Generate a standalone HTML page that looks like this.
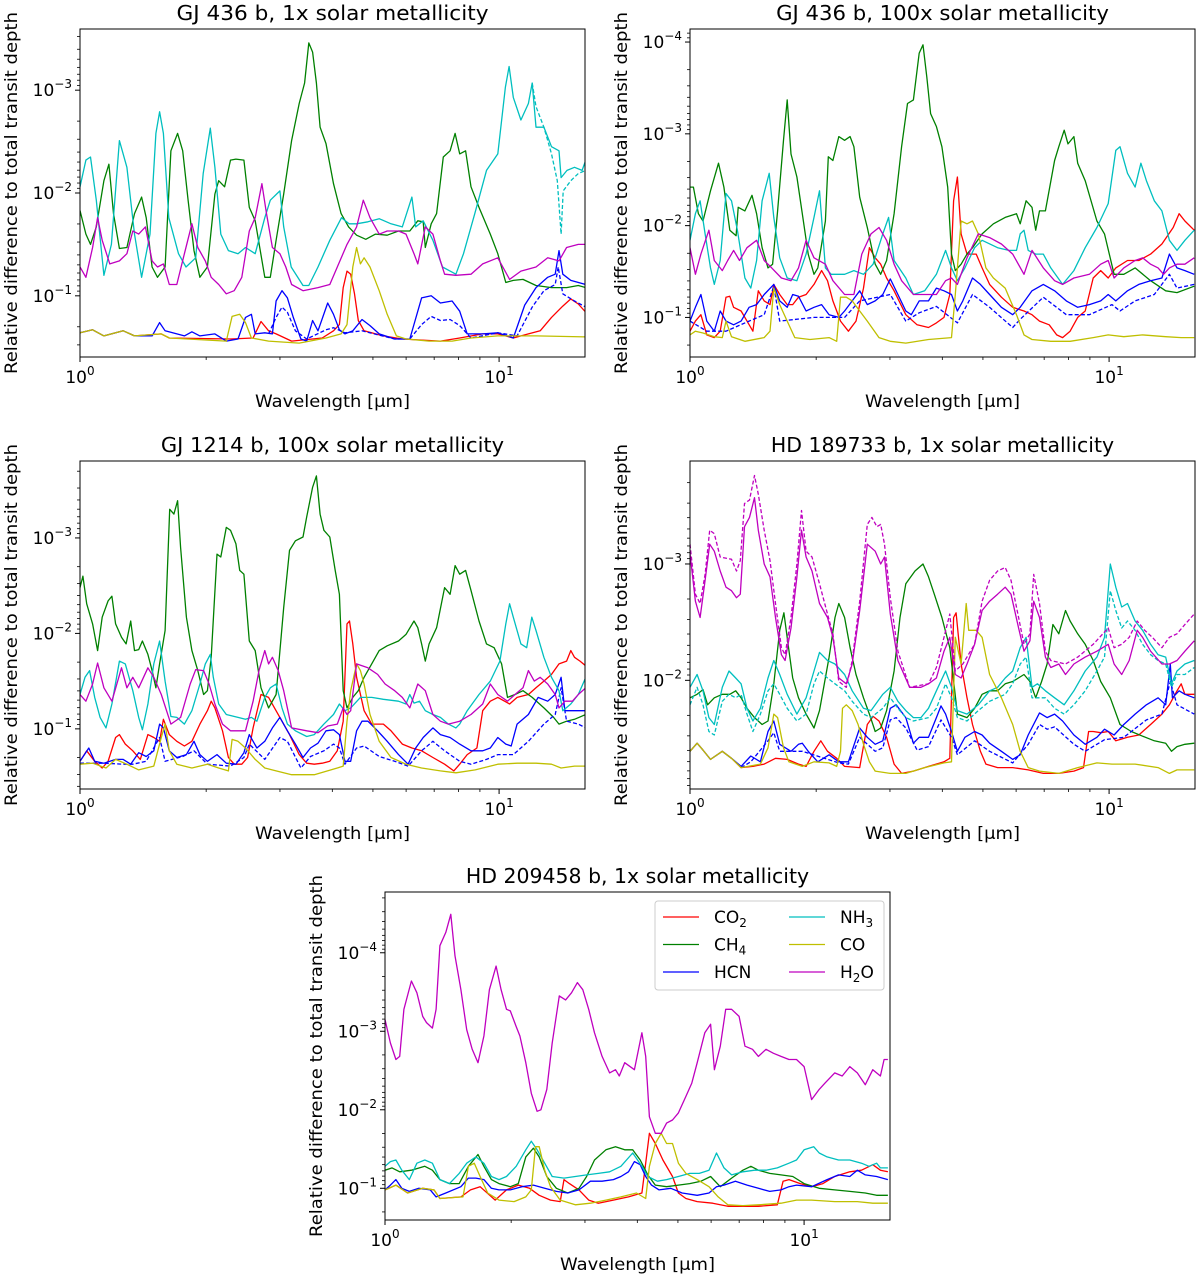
<!DOCTYPE html>
<html><head><meta charset="utf-8"><title>Relative difference to total transit depth</title>
<style>
html,body{margin:0;padding:0;background:#fff;}
svg{display:block;font-family:"DejaVu Sans","Liberation Sans",sans-serif;}
</style></head>
<body>
<svg id="fig" width="1200" height="1276" viewBox="0 0 1200 1276" xmlns="http://www.w3.org/2000/svg"></svg>
<script>
// ---- Data: x arrays = log10(wavelength / um), y arrays = log10(relative difference) ----
// Panel 1: GJ 436 b, 1x
const p1_co2_x=[0,.030,.057,.103,.130,.194,.213,.359,.413,.432,.450,.468,.505,.578,.605,.619,.628,.637,.646,.655,.664,.678,.724,.769,.860,.906,.961,.997,1.034,1.070,1.098,1.125,1.152,1.171,1.189,1.207];
const p1_co2_y=[-0.64,-0.67,-0.61,-0.66,-0.61,-0.63,-0.59,-0.58,-0.59,-0.75,-0.66,-0.63,-0.56,-0.59,-0.66,-0.72,-1.08,-1.24,-1.21,-1.02,-0.76,-0.66,-0.61,-0.58,-0.56,-0.59,-0.63,-0.63,-0.59,-0.63,-0.66,-0.79,-0.90,-0.97,-0.92,-0.84];
const p1_ch4_x=[0,.014,.025,.039,.057,.069,.080,.094,.112,.130,.147,.158,.172,.185,.203,.217,.233,.245,.258,.272,.286,.304,.322,.331,.345,.359,.372,.391,.404,.418,.441,.454,.468,.486,.505,.523,.536,.546,.555,.564,.573,.587,.605,.623,.641,.660,.682,.705,.733,.760,.787,.806,.819,.824,.838,.851,.867,.883,.895,.906,.920,.933,.952,.979,.997,1.016,1.034,1.057,1.088,1.125,1.161,1.189,1.207];
const p1_ch4_y=[-1.83,-1.60,-1.50,-1.67,-2.12,-2.28,-1.80,-1.46,-1.47,-1.80,-1.96,-1.76,-1.28,-1.18,-1.28,-2.41,-2.58,-2.41,-1.93,-1.44,-1.18,-1.28,-1.99,-2.12,-2.06,-2.32,-2.33,-2.32,-1.86,-1.73,-1.18,-1.18,-1.54,-1.99,-2.51,-2.87,-3.07,-3.46,-3.37,-3.07,-2.64,-2.48,-2.09,-1.80,-1.67,-1.59,-1.55,-1.60,-1.59,-1.63,-1.63,-1.73,-1.72,-1.47,-1.70,-1.80,-2.35,-2.41,-2.58,-2.38,-2.41,-2.06,-1.86,-1.60,-1.41,-1.13,-1.15,-1.16,-1.10,-1.08,-1.08,-1.10,-1.08];
const p1_hcn_x=[0,.030,.057,.103,.130,.172,.190,.203,.249,.267,.286,.322,.349,.377,.395,.409,.418,.441,.459,.468,.482,.495,.509,.527,.541,.555,.568,.591,.605,.619,.632,.651,.673,.692,.714,.751,.787,.815,.838,.860,.888,.906,.924,.961,.997,1.034,1.061,1.088,1.116,1.134,1.143,1.152,1.171,1.207];
const p1_hcn_y=[-0.64,-0.67,-0.61,-0.66,-0.61,-0.61,-0.74,-0.66,-0.61,-0.65,-0.61,-0.63,-0.56,-0.58,-0.79,-0.82,-0.63,-0.64,-0.63,-0.95,-1.05,-0.98,-0.79,-0.58,-0.56,-0.76,-0.66,-0.93,-0.82,-0.67,-0.63,-0.66,-0.77,-0.71,-0.63,-0.58,-0.58,-0.98,-1.00,-0.93,-0.95,-0.85,-0.63,-0.63,-0.64,-0.59,-0.91,-1.08,-1.18,-1.21,-1.44,-1.21,-1.15,-1.11];
const p1_hcnd_x=[.450,.468,.482,.495,.514,.541,.587,.605,.632,.673,.751,.787,.815,.838,.860,.883,.906,.933,.997,1.043,1.079,1.107,1.134,1.141,1.152,1.180,1.207];
const p1_hcnd_y=[-0.63,-0.79,-0.89,-0.84,-0.66,-0.58,-0.67,-0.69,-0.64,-0.66,-0.58,-0.58,-0.72,-0.80,-0.76,-0.77,-0.71,-0.59,-0.64,-0.61,-0.89,-1.05,-1.11,-1.28,-1.02,-0.95,-0.89];
const p1_nh3_x=[0,.014,.025,.039,.057,.075,.094,.112,.130,.147,.167,.181,.190,.199,.212,.235,.253,.276,.294,.311,.322,.336,.354,.377,.395,.418,.441,.454,.477,.486,.504,.532,.546,.568,.596,.624,.642,.660,.687,.714,.742,.769,.792,.801,.819,.842,.865,.883,.897,.915,.942,.970,.997,1.015,1.024,1.034,1.052,1.070,1.079,1.088,1.107,1.125,1.143,1.148,1.162,1.180,1.198,1.207];
const p1_nh3_y=[-2.06,-2.32,-2.35,-1.93,-1.20,-1.50,-2.51,-2.25,-1.60,-1.18,-1.60,-2.58,-2.79,-2.58,-1.76,-1.41,-1.28,-1.37,-2.19,-2.63,-2.25,-1.60,-1.44,-1.41,-1.47,-1.41,-1.76,-1.93,-2.02,-1.67,-1.28,-1.10,-1.10,-1.28,-1.54,-1.76,-1.70,-1.70,-1.72,-1.75,-1.70,-1.67,-1.96,-1.67,-1.73,-1.54,-1.28,-1.24,-1.21,-1.41,-1.80,-2.22,-2.38,-3.03,-3.23,-2.93,-2.71,-2.87,-3.07,-2.64,-2.64,-2.45,-2.41,-2.15,-2.22,-2.25,-2.22,-2.32];
const p1_nh3d_x=[1.079,1.088,1.107,1.125,1.139,1.148,1.153,1.171,1.189,1.207];
const p1_nh3d_y=[-3.07,-2.84,-2.64,-2.38,-2.12,-1.60,-2.02,-2.12,-2.19,-2.22];
const p1_co_x=[0,.030,.057,.103,.130,.194,.213,.349,.363,.381,.395,.409,.450,.523,.587,.623,.637,.651,.660,.669,.678,.692,.714,.733,.755,.778,.833,.888,.933,.997,1.088,1.207];
const p1_co_y=[-0.64,-0.67,-0.61,-0.66,-0.61,-0.63,-0.59,-0.56,-0.80,-0.82,-0.74,-0.59,-0.56,-0.54,-0.59,-0.63,-0.72,-1.28,-1.47,-1.31,-1.37,-1.28,-1.05,-0.82,-0.61,-0.58,-0.56,-0.56,-0.59,-0.61,-0.61,-0.60];
const p1_h2o_x=[0,.014,.030,.042,.053,.071,.094,.112,.126,.140,.156,.172,.185,.199,.213,.231,.249,.267,.281,.299,.313,.331,.349,.368,.386,.404,.418,.434,.445,.459,.477,.491,.505,.532,.568,.596,.614,.637,.660,.676,.692,.714,.733,.760,.778,.797,.806,.824,.842,.860,.870,.897,.933,.961,.997,1.025,1.052,1.088,1.116,1.143,1.161,1.189,1.207];
const p1_h2o_y=[-1.28,-1.18,-1.47,-1.76,-1.54,-1.31,-1.34,-1.41,-1.63,-1.60,-1.67,-1.34,-1.28,-1.31,-1.11,-1.11,-1.41,-1.70,-1.47,-1.34,-1.18,-1.11,-1.02,-1.05,-1.18,-1.63,-1.76,-2.09,-1.80,-1.47,-1.41,-1.28,-1.11,-1.05,-1.08,-1.11,-1.28,-1.50,-1.67,-1.93,-1.76,-1.60,-1.63,-1.63,-1.60,-1.41,-1.31,-1.67,-1.60,-1.34,-1.21,-1.20,-1.21,-1.31,-1.37,-1.16,-1.24,-1.28,-1.37,-1.34,-1.47,-1.50,-1.50];

// Panel 2: GJ 436 b, 100x
const p2_co2_x=[0,.013,.026,.040,.058,.072,.086,.095,.104,.122,.136,.150,.163,.177,.191,.200,.214,.232,.245,.259,.277,.296,.314,.328,.341,.359,.378,.396,.414,.428,.442,.455,.469,.487,.515,.542,.569,.588,.606,.620,.629,.638,.647,.661,.683,.697,.715,.743,.770,.797,.816,.834,.857,.875,.889,.907,.925,.943,.962,.980,.998,1.016,1.044,1.071,1.099,1.126,1.153,1.167,1.181,1.203];
const p2_co2_y=[-0.85,-0.96,-1.03,-0.81,-0.78,-0.85,-1.22,-1.23,-1.11,-1.07,-0.96,-0.85,-1.29,-1.18,-1.14,-1.36,-1.25,-1.14,-1.14,-1.22,-1.25,-1.36,-1.51,-1.40,-1.18,-0.96,-0.85,-0.96,-1.32,-1.76,-1.65,-1.58,-1.43,-1.29,-1.03,-0.92,-0.89,-0.94,-1.00,-1.25,-2.27,-2.53,-1.91,-1.69,-1.69,-1.54,-1.36,-1.22,-1.11,-1.07,-1.03,-0.96,-0.92,-0.81,-0.78,-0.85,-1.00,-1.07,-1.43,-1.51,-1.43,-1.54,-1.62,-1.62,-1.69,-1.80,-1.98,-2.13,-2.05,-1.95];
const p2_ch4_x=[0,.008,.020,.031,.049,.068,.081,.095,.110,.115,.131,.148,.159,.172,.186,.197,.209,.223,.232,.241,.255,.268,.282,.296,.305,.323,.330,.341,.355,.369,.382,.391,.405,.423,.442,.455,.469,.487,.505,.519,.533,.547,.556,.565,.574,.588,.601,.615,.624,.633,.647,.661,.674,.697,.724,.752,.779,.788,.802,.816,.825,.834,.848,.870,.880,.893,.902,.916,.925,.943,.971,.989,1.012,1.035,1.062,1.099,1.135,1.162,1.203];
const p2_ch4_y=[-2.42,-2.42,-2.13,-2.05,-2.38,-2.68,-2.42,-1.95,-1.89,-2.20,-2.16,-2.33,-2.13,-1.76,-1.54,-1.58,-2.16,-2.93,-3.37,-2.78,-2.53,-2.13,-1.69,-1.47,-1.54,-2.05,-2.75,-2.71,-2.97,-2.93,-2.97,-2.86,-2.31,-1.98,-1.58,-1.47,-1.62,-2.13,-2.86,-3.33,-3.37,-3.88,-3.97,-3.62,-3.22,-3.08,-2.86,-2.42,-1.69,-1.51,-1.58,-1.69,-1.76,-1.91,-2.02,-2.09,-2.13,-2.02,-2.27,-2.20,-1.95,-2.16,-2.16,-2.71,-2.86,-3.04,-2.89,-2.97,-2.68,-2.49,-2.05,-1.91,-1.47,-1.47,-1.54,-1.40,-1.29,-1.27,-1.34];
const p2_hcn_x=[0,.013,.026,.040,.058,.072,.086,.104,.122,.141,.159,.177,.200,.214,.232,.245,.259,.277,.296,.314,.332,.355,.369,.387,.405,.423,.442,.460,.478,.496,.515,.528,.547,.569,.588,.606,.624,.638,.651,.674,.693,.715,.743,.770,.788,.816,.843,.870,.898,.925,.953,.980,.998,1.016,1.044,1.071,1.099,1.126,1.144,1.162,1.181,1.203];
const p2_hcn_y=[-0.96,-1.11,-1.25,-0.96,-0.85,-1.07,-0.96,-0.92,-0.96,-1.11,-1.14,-1.25,-1.36,-1.18,-1.11,-1.25,-1.23,-1.07,-1.11,-1.14,-1.03,-1.00,-1.07,-1.18,-1.29,-1.14,-1.18,-1.25,-1.42,-1.25,-1.07,-1.03,-1.18,-1.18,-1.32,-1.29,-1.25,-1.07,-1.18,-1.43,-1.36,-1.25,-1.11,-1.03,-1.11,-1.29,-1.36,-1.29,-1.18,-1.11,-1.14,-1.18,-1.25,-1.18,-1.29,-1.36,-1.40,-1.43,-1.69,-1.54,-1.51,-1.47];
const p2_hcnd_x=[0,.040,.086,.141,.177,.200,.214,.296,.369,.405,.478,.515,.547,.588,.638,.674,.715,.770,.788,.843,.898,.953,1.007,1.026,1.062,1.108,1.144,1.162,1.203];
const p2_hcnd_y=[-0.96,-0.85,-0.85,-0.96,-1.03,-1.34,-0.96,-1.00,-1.00,-1.18,-1.25,-0.96,-1.05,-1.12,-0.94,-1.25,-1.11,-0.89,-0.98,-1.22,-1.03,-1.03,-1.14,-1.07,-1.18,-1.25,-1.47,-1.32,-1.36];
const p2_nh3_x=[0,.013,.024,.036,.049,.058,.072,.086,.099,.113,.131,.145,.159,.172,.189,.200,.214,.232,.255,.277,.296,.309,.323,.337,.369,.391,.414,.437,.460,.474,.487,.515,.533,.560,.588,.610,.624,.638,.656,.679,.697,.734,.761,.779,.788,.797,.807,.825,.843,.861,.889,.916,.943,.971,.998,1.016,1.026,1.044,1.062,1.076,1.089,1.108,1.126,1.144,1.162,1.181,1.203];
const p2_nh3_y=[-1.84,-2.13,-2.27,-1.91,-1.54,-1.36,-1.62,-2.35,-2.27,-1.95,-1.43,-1.32,-1.62,-2.27,-2.57,-2.09,-1.65,-1.43,-1.40,-1.69,-2.09,-2.38,-1.54,-1.47,-1.47,-1.51,-1.47,-1.58,-1.91,-2.09,-1.62,-1.43,-1.25,-1.29,-1.47,-1.73,-1.54,-1.40,-1.54,-1.76,-1.84,-1.76,-1.73,-1.73,-1.91,-1.95,-1.73,-1.69,-1.69,-1.54,-1.36,-1.51,-1.76,-1.98,-2.24,-2.82,-2.86,-2.57,-2.42,-2.68,-2.49,-2.27,-2.16,-1.84,-1.73,-1.84,-1.95];
const p2_co_x=[0,.013,.031,.058,.077,.086,.099,.131,.177,.191,.200,.214,.232,.250,.286,.332,.350,.359,.373,.387,.405,.423,.451,.478,.515,.569,.624,.633,.647,.661,.674,.688,.706,.724,.752,.779,.797,.816,.861,.907,.962,.998,1.035,1.080,1.135,1.172,1.203];
const p2_co_y=[-0.81,-0.85,-0.83,-0.79,-0.78,-0.96,-0.79,-0.74,-0.78,-0.85,-1.32,-1.14,-0.96,-0.78,-0.76,-0.78,-0.74,-1.22,-1.22,-1.18,-1.07,-0.96,-0.78,-0.74,-0.72,-0.76,-0.78,-1.25,-2.05,-2.02,-2.05,-1.91,-1.54,-1.43,-1.32,-1.03,-0.81,-0.76,-0.74,-0.74,-0.78,-0.81,-0.79,-0.81,-0.79,-0.78,-0.78];
const p2_h2o_x=[0,.013,.026,.045,.058,.077,.090,.104,.118,.136,.159,.177,.195,.218,.241,.259,.277,.296,.323,.341,.369,.391,.410,.432,.451,.469,.487,.505,.533,.560,.588,.610,.624,.638,.661,.688,.715,.743,.770,.797,.816,.843,.870,.889,.916,.953,.980,.998,1.012,1.035,1.062,1.080,1.099,1.117,1.130,1.144,1.162,1.181,1.203];
const p2_h2o_y=[-1.76,-1.47,-1.69,-1.95,-1.62,-1.51,-1.62,-1.73,-1.62,-1.76,-1.84,-1.62,-1.54,-1.43,-1.40,-1.54,-1.84,-1.65,-1.58,-1.40,-1.25,-1.25,-1.69,-1.91,-1.98,-1.84,-1.58,-1.40,-1.25,-1.25,-1.25,-1.40,-1.43,-1.36,-1.65,-1.91,-1.87,-1.80,-1.69,-1.47,-1.73,-1.54,-1.40,-1.36,-1.43,-1.47,-1.58,-1.62,-1.43,-1.54,-1.62,-1.65,-1.58,-1.54,-1.47,-1.54,-1.58,-1.58,-1.65];

// Panel 3: GJ 1214 b, 100x
const p3_co2_x=[0,.016,.035,.053,.067,.085,.094,.108,.126,.144,.162,.176,.190,.199,.213,.231,.249,.267,.286,.304,.313,.322,.340,.354,.368,.386,.400,.413,.432,.450,.464,.482,.500,.523,.541,.559,.578,.596,.614,.628,.637,.643,.651,.660,.678,.696,.724,.742,.769,.792,.815,.842,.870,.892,.906,.924,.947,.961,.979,.997,1.025,1.043,1.070,1.088,1.107,1.125,1.143,1.161,1.171,1.180,1.193,1.207];
const p3_co2_y=[-0.66,-0.77,-0.66,-0.59,-0.66,-0.91,-0.94,-0.84,-0.77,-0.68,-0.94,-0.91,-0.87,-1.10,-0.94,-0.87,-0.82,-0.87,-1.05,-1.19,-1.29,-1.22,-0.98,-0.70,-0.63,-0.63,-0.70,-1.01,-1.36,-1.33,-1.22,-1.08,-0.94,-0.73,-0.64,-0.63,-0.64,-0.66,-0.77,-1.08,-2.10,-2.13,-1.89,-1.54,-1.19,-1.05,-1.05,-0.98,-0.84,-0.80,-0.77,-0.70,-0.63,-0.56,-0.63,-0.73,-0.80,-1.19,-1.29,-1.33,-1.26,-1.33,-1.36,-1.43,-1.50,-1.57,-1.68,-1.71,-1.82,-1.75,-1.71,-1.66];
const p3_ch4_x=[0,.007,.016,.030,.042,.053,.067,.076,.085,.099,.110,.121,.130,.140,.149,.162,.172,.181,.190,.203,.214,.224,.233,.240,.254,.267,.281,.295,.304,.313,.327,.336,.349,.359,.372,.381,.391,.404,.418,.432,.450,.468,.486,.500,.514,.532,.541,.555,.564,.573,.582,.596,.609,.619,.628,.637,.651,.664,.678,.696,.714,.733,.760,.778,.797,.806,.815,.824,.833,.851,.870,.883,.895,.906,.920,.933,.952,.970,.988,1.006,1.020,1.038,1.057,1.079,1.107,1.130,1.143,1.161,1.180,1.207];
const p3_ch4_y=[-2.48,-2.60,-2.31,-2.10,-1.82,-2.17,-2.34,-2.39,-2.10,-1.96,-1.89,-2.13,-1.82,-1.83,-1.92,-1.78,-1.61,-1.43,-1.68,-2.03,-3.30,-3.25,-3.39,-2.90,-2.17,-1.82,-1.61,-1.36,-1.40,-1.75,-2.83,-2.80,-3.11,-3.08,-2.94,-2.66,-2.62,-1.92,-1.82,-1.43,-1.22,-1.36,-2.27,-2.87,-2.97,-3.01,-3.22,-3.53,-3.65,-3.25,-3.08,-3.01,-2.66,-2.41,-1.40,-1.22,-1.33,-1.40,-1.54,-1.68,-1.82,-1.87,-1.92,-1.99,-2.13,-2.06,-1.89,-1.71,-1.89,-2.06,-2.48,-2.41,-2.71,-2.62,-2.66,-2.45,-2.13,-1.89,-1.85,-1.68,-1.33,-1.36,-1.40,-1.33,-1.22,-1.12,-1.05,-1.08,-1.10,-1.15];
const p3_hcn_x=[0,.021,.035,.057,.085,.103,.121,.140,.158,.176,.190,.199,.213,.231,.254,.272,.286,.304,.327,.349,.372,.391,.404,.422,.441,.459,.477,.495,.514,.532,.550,.568,.587,.605,.619,.632,.646,.660,.673,.687,.710,.733,.760,.783,.801,.819,.842,.860,.883,.906,.933,.961,.979,.997,1.016,1.029,1.043,1.070,1.093,1.116,1.134,1.148,1.157,1.180,1.207];
const p3_hcn_y=[-0.66,-0.80,-0.66,-0.64,-0.68,-0.68,-0.63,-0.75,-0.71,-0.77,-1.05,-1.01,-0.77,-0.70,-0.73,-0.87,-0.73,-0.66,-0.73,-0.64,-0.63,-0.75,-0.94,-0.80,-0.87,-1.01,-1.12,-0.98,-0.84,-0.70,-0.80,-0.85,-0.98,-0.99,-0.94,-0.66,-0.66,-0.98,-1.08,-1.08,-0.98,-0.87,-0.73,-0.63,-0.80,-0.91,-1.01,-0.94,-0.91,-0.84,-0.77,-0.77,-0.80,-0.91,-0.84,-0.82,-1.05,-1.15,-1.33,-1.29,-1.36,-1.54,-1.19,-1.19,-1.19];
const p3_hcnd_x=[0,.057,.103,.126,.158,.190,.203,.245,.272,.304,.359,.391,.404,.441,.477,.495,.527,.550,.582,.605,.619,.632,.660,.678,.714,.751,.783,.815,.842,.870,.906,.933,.970,.997,1.034,1.070,1.107,1.134,1.148,1.161,1.189,1.207];
const p3_hcnd_y=[-0.64,-0.64,-0.63,-0.63,-0.66,-0.91,-0.66,-0.71,-0.77,-0.63,-0.61,-0.70,-0.84,-0.68,-0.91,-0.87,-0.59,-0.71,-0.77,-0.84,-0.80,-0.63,-0.80,-0.82,-0.71,-0.66,-0.61,-0.77,-0.87,-0.77,-0.66,-0.63,-0.68,-0.73,-0.73,-0.87,-1.05,-1.15,-1.43,-1.08,-1.05,-1.01];
const p3_nh3_x=[0,.012,.023,.035,.048,.062,.076,.094,.108,.126,.140,.149,.162,.176,.190,.203,.217,.231,.249,.267,.286,.299,.311,.318,.331,.349,.377,.395,.409,.422,.441,.454,.468,.482,.495,.514,.541,.559,.582,.605,.619,.632,.646,.669,.696,.724,.760,.778,.787,.797,.810,.824,.842,.860,.879,.897,.906,.924,.952,.979,1.002,1.016,1.025,1.034,1.052,1.066,1.078,1.088,1.107,1.125,1.143,1.152,1.171,1.189,1.207];
const p3_nh3_y=[-1.36,-1.54,-1.61,-1.33,-1.12,-1.01,-1.26,-1.71,-1.68,-1.40,-1.12,-0.99,-1.26,-1.68,-1.92,-1.50,-1.13,-1.12,-1.05,-1.19,-1.47,-1.68,-1.78,-1.54,-1.26,-1.15,-1.12,-1.10,-1.12,-1.08,-1.33,-1.43,-1.47,-1.22,-1.05,-0.98,-0.92,-0.94,-1.05,-1.15,-1.26,-1.19,-1.22,-1.33,-1.33,-1.31,-1.29,-1.26,-1.36,-1.27,-1.29,-1.19,-1.15,-1.12,-1.05,-1.01,-1.05,-1.19,-1.36,-1.50,-1.71,-2.10,-2.31,-2.17,-1.89,-1.85,-2.17,-2.03,-1.75,-1.54,-1.40,-1.19,-1.26,-1.36,-1.54];
const p3_co_x=[0,.030,.062,.085,.112,.140,.176,.194,.203,.213,.231,.267,.304,.331,.354,.363,.377,.395,.418,.441,.468,.505,.559,.614,.628,.637,.646,.660,.669,.678,.692,.714,.742,.778,.815,.860,.897,.943,.997,1.043,1.088,1.125,1.148,1.180,1.207];
const p3_co_y=[-0.63,-0.64,-0.59,-0.68,-0.63,-0.57,-0.61,-0.91,-1.05,-0.77,-0.63,-0.59,-0.63,-0.59,-0.56,-0.89,-0.87,-0.80,-0.68,-0.59,-0.56,-0.52,-0.52,-0.59,-0.61,-1.08,-1.40,-1.68,-1.61,-1.47,-1.15,-0.87,-0.70,-0.63,-0.59,-0.56,-0.54,-0.57,-0.63,-0.64,-0.64,-0.63,-0.59,-0.61,-0.61];
const p3_h2o_x=[0,.014,.030,.042,.057,.076,.099,.112,.126,.140,.162,.176,.194,.217,.240,.263,.276,.295,.308,.322,.340,.359,.377,.395,.413,.427,.441,.450,.459,.473,.486,.505,.541,.568,.591,.614,.628,.637,.646,.660,.687,.710,.728,.751,.769,.787,.806,.824,.842,.860,.879,.906,.933,.961,.979,.997,1.020,1.038,1.057,1.070,1.084,1.098,1.116,1.134,1.143,1.157,1.175,1.189,1.207];
const p3_h2o_y=[-1.36,-1.29,-1.47,-1.69,-1.43,-1.29,-1.64,-1.43,-1.54,-1.43,-1.64,-1.54,-1.36,-1.05,-1.12,-1.47,-1.62,-1.61,-1.47,-1.26,-1.05,-0.98,-0.98,-0.98,-1.29,-1.61,-1.82,-1.68,-1.75,-1.61,-1.40,-1.01,-0.98,-0.96,-1.03,-1.05,-1.22,-1.15,-1.19,-1.68,-1.64,-1.57,-1.47,-1.40,-1.33,-1.22,-1.47,-1.40,-1.15,-1.08,-1.05,-1.08,-1.15,-1.26,-1.47,-1.36,-1.29,-1.36,-1.43,-1.61,-1.50,-1.54,-1.47,-1.36,-1.22,-1.29,-1.29,-1.36,-1.43];

// Panel 4: HD 189733 b, 1x
const p4_co2_x=[0,.017,.031,.049,.077,.099,.122,.150,.177,.204,.232,.259,.277,.296,.312,.328,.350,.369,.405,.423,.437,.451,.469,.487,.505,.533,.569,.606,.620,.629,.635,.647,.661,.674,.693,.706,.734,.770,.807,.843,.880,.916,.939,.951,.962,.980,.998,1.016,1.044,1.071,1.099,1.126,1.144,1.162,1.172,1.181,1.203];
const p4_co2_y=[-1.39,-1.46,-1.40,-1.32,-1.39,-1.33,-1.25,-1.26,-1.28,-1.33,-1.32,-1.28,-1.26,-1.39,-1.48,-1.39,-1.33,-1.26,-1.25,-1.62,-1.69,-1.65,-1.51,-1.28,-1.20,-1.22,-1.26,-1.30,-1.33,-2.54,-2.58,-2.14,-1.85,-1.62,-1.39,-1.28,-1.25,-1.25,-1.23,-1.20,-1.20,-1.22,-1.25,-1.56,-1.56,-1.55,-1.56,-1.48,-1.51,-1.53,-1.62,-1.71,-1.79,-1.91,-1.97,-1.88,-1.88];
const p4_ch4_x=[0,.017,.031,.042,.058,.077,.095,.109,.122,.136,.154,.172,.186,.200,.214,.224,.234,.245,.259,.277,.296,.309,.332,.346,.355,.369,.382,.396,.414,.428,.442,.455,.469,.487,.501,.515,.537,.556,.569,.583,.601,.620,.638,.661,.679,.697,.715,.734,.752,.770,.797,.811,.825,.839,.852,.866,.880,.896,.907,.925,.943,.962,.980,1.003,1.026,1.053,1.080,1.108,1.135,1.149,1.162,1.181,1.203];
const p4_ch4_y=[-1.85,-1.88,-1.92,-1.79,-1.85,-1.88,-1.88,-1.91,-1.85,-1.76,-1.68,-1.62,-1.65,-1.97,-2.43,-2.58,-2.31,-2.02,-1.85,-1.71,-1.59,-1.74,-2.20,-2.54,-2.66,-2.54,-2.28,-2.05,-1.85,-1.71,-1.56,-1.59,-1.74,-2.08,-2.54,-2.83,-2.94,-3.00,-2.89,-2.74,-2.54,-2.28,-1.71,-1.68,-1.76,-1.88,-1.91,-1.91,-1.97,-1.99,-2.05,-1.99,-1.85,-1.99,-2.14,-2.48,-2.40,-2.60,-2.51,-2.40,-2.31,-2.17,-1.99,-1.85,-1.62,-1.56,-1.52,-1.48,-1.46,-1.39,-1.43,-1.45,-1.46];
const p4_hcn_x=[0,.017,.031,.049,.077,.099,.122,.145,.168,.186,.200,.214,.241,.259,.268,.282,.305,.332,.355,.378,.405,.423,.442,.460,.478,.492,.515,.533,.547,.569,.588,.599,.610,.624,.638,.656,.679,.697,.715,.743,.770,.788,.807,.834,.852,.870,.889,.916,.943,.971,.989,1.012,1.035,1.062,1.089,1.117,1.135,1.146,1.151,1.167,1.181,1.203];
const p4_hcn_y=[-1.39,-1.46,-1.40,-1.32,-1.39,-1.33,-1.26,-1.35,-1.30,-1.56,-1.65,-1.45,-1.39,-1.45,-1.46,-1.39,-1.30,-1.36,-1.30,-1.30,-1.59,-1.51,-1.45,-1.48,-1.76,-1.79,-1.68,-1.46,-1.51,-1.51,-1.68,-1.78,-1.71,-1.56,-1.39,-1.51,-1.56,-1.53,-1.46,-1.39,-1.32,-1.36,-1.53,-1.72,-1.68,-1.71,-1.65,-1.53,-1.45,-1.51,-1.58,-1.53,-1.62,-1.71,-1.79,-1.85,-1.79,-2.14,-1.85,-1.91,-1.88,-1.85];
const p4_hcnd_x=[.122,.145,.186,.200,.214,.268,.355,.378,.405,.442,.460,.478,.492,.515,.542,.569,.599,.624,.638,.679,.715,.770,.807,.834,.852,.870,.916,.943,.989,1.035,1.089,1.126,1.146,1.162,1.203];
const p4_hcnd_y=[-1.25,-1.30,-1.48,-1.55,-1.39,-1.39,-1.29,-1.28,-1.51,-1.39,-1.42,-1.66,-1.68,-1.59,-1.40,-1.43,-1.66,-1.51,-1.36,-1.48,-1.39,-1.29,-1.45,-1.62,-1.58,-1.60,-1.45,-1.39,-1.49,-1.51,-1.66,-1.71,-1.99,-1.79,-1.71];
const p4_nh3_x=[0,.017,.031,.045,.058,.077,.093,.109,.122,.136,.150,.168,.186,.200,.214,.232,.255,.277,.296,.309,.328,.346,.369,.387,.414,.432,.460,.478,.496,.515,.533,.551,.569,.588,.610,.624,.638,.661,.688,.715,.734,.752,.770,.788,.802,.816,.829,.848,.870,.893,.916,.943,.971,.989,1.003,1.016,1.030,1.044,1.062,1.080,1.099,1.117,1.135,1.149,1.162,1.181,1.203];
const p4_nh3_y=[-1.94,-2.05,-1.91,-1.68,-1.62,-1.94,-2.08,-2.02,-1.97,-1.76,-1.65,-1.76,-2.02,-2.17,-2.05,-1.88,-1.71,-1.85,-2.08,-2.24,-2.17,-2.14,-2.05,-1.91,-1.76,-1.74,-1.88,-1.94,-1.82,-1.74,-1.68,-1.68,-1.76,-1.91,-2.08,-1.94,-1.74,-1.71,-1.79,-1.91,-1.94,-2.02,-2.08,-2.28,-2.37,-1.94,-1.97,-1.91,-1.85,-1.79,-1.91,-2.08,-2.20,-2.37,-3.00,-2.80,-2.63,-2.66,-2.51,-2.43,-2.31,-2.22,-2.20,-1.97,-2.08,-2.14,-2.17];
const p4_nh3d_x=[0,.017,.031,.045,.058,.077,.093,.109,.122,.136,.150,.168,.186,.200,.214,.232,.255,.277,.296,.309,.328,.346,.369,.387,.414,.432,.460,.478,.496,.515,.533,.569,.588,.610,.624,.638,.661,.688,.715,.752,.770,.788,.802,.816,.848,.870,.893,.916,.943,.971,.989,1.003,1.016,1.030,1.044,1.062,1.080,1.099,1.117,1.135,1.149,1.162,1.181,1.203];
const p4_nh3d_y=[-1.79,-1.94,-1.79,-1.56,-1.53,-1.82,-1.88,-1.85,-1.88,-1.71,-1.56,-1.71,-1.91,-1.97,-1.88,-1.76,-1.65,-1.71,-1.97,-2.08,-2.02,-1.97,-1.91,-1.82,-1.71,-1.68,-1.76,-1.85,-1.76,-1.68,-1.65,-1.68,-1.76,-1.97,-1.85,-1.68,-1.65,-1.74,-1.82,-1.88,-1.97,-2.14,-2.20,-1.85,-1.85,-1.76,-1.71,-1.79,-1.91,-2.08,-2.20,-2.77,-2.60,-2.45,-2.51,-2.43,-2.31,-2.22,-2.17,-2.14,-1.94,-2.05,-2.05,-2.11];
const p4_co_x=[0,.017,.031,.049,.077,.099,.122,.168,.186,.200,.209,.223,.236,.268,.296,.332,.350,.359,.364,.373,.387,.401,.414,.428,.442,.478,.515,.560,.606,.624,.633,.647,.659,.665,.670,.683,.697,.715,.743,.770,.788,.807,.834,.880,.925,.971,1.007,1.062,1.117,1.144,1.162,1.203];
const p4_co_y=[-1.39,-1.46,-1.40,-1.32,-1.39,-1.33,-1.25,-1.28,-1.42,-1.71,-1.68,-1.42,-1.30,-1.26,-1.30,-1.29,-1.26,-1.39,-1.76,-1.79,-1.74,-1.62,-1.45,-1.30,-1.22,-1.20,-1.20,-1.25,-1.29,-1.30,-2.37,-2.14,-2.66,-2.43,-2.43,-2.43,-2.37,-2.05,-1.85,-1.62,-1.39,-1.25,-1.22,-1.20,-1.25,-1.29,-1.28,-1.28,-1.25,-1.20,-1.23,-1.23];
const p4_h2o_x=[0,.013,.024,.036,.047,.058,.072,.086,.099,.111,.120,.130,.142,.154,.163,.177,.191,.204,.218,.227,.241,.255,.266,.277,.291,.309,.328,.341,.355,.373,.387,.405,.423,.442,.455,.464,.478,.496,.524,.551,.569,.588,.606,.620,.633,.647,.661,.679,.697,.715,.734,.752,.766,.784,.797,.811,.820,.834,.848,.861,.880,.896,.916,.943,.971,.998,1.012,1.030,1.048,1.067,1.080,1.099,1.126,1.144,1.162,1.181,1.203];
const p4_h2o_y=[-3.09,-2.68,-2.54,-2.86,-3.17,-3.11,-2.94,-2.80,-2.77,-2.71,-2.74,-3.32,-3.40,-3.57,-3.29,-3.00,-2.89,-2.54,-2.22,-2.17,-2.45,-2.89,-3.29,-3.06,-2.94,-2.66,-2.54,-2.37,-2.02,-1.97,-2.14,-2.60,-3.17,-3.11,-3.00,-3.06,-2.57,-2.17,-1.94,-1.94,-1.97,-2.02,-2.25,-2.37,-2.05,-2.02,-2.14,-2.31,-2.60,-2.68,-2.74,-2.80,-2.74,-2.45,-2.25,-2.34,-2.68,-2.54,-2.20,-2.11,-2.14,-2.05,-2.14,-2.20,-2.25,-2.31,-2.14,-2.05,-2.17,-2.43,-2.37,-2.25,-2.14,-2.14,-2.17,-2.25,-2.34];
const p4_h2od_x=[0,.013,.024,.036,.047,.058,.072,.099,.111,.120,.130,.142,.154,.163,.177,.191,.204,.218,.227,.241,.255,.266,.277,.291,.309,.328,.341,.355,.373,.387,.405,.423,.434,.446,.455,.464,.478,.496,.524,.569,.588,.606,.620,.633,.651,.679,.697,.715,.734,.752,.766,.784,.797,.811,.820,.834,.848,.861,.896,.925,.962,.998,1.012,1.030,1.048,1.067,1.085,1.103,1.126,1.144,1.162,1.181,1.203];
const p4_h2od_y=[-3.17,-2.74,-2.66,-2.91,-3.29,-3.26,-3.06,-3.04,-2.94,-3.03,-3.52,-3.55,-3.76,-3.60,-3.29,-3.03,-2.66,-2.28,-2.22,-2.54,-3.00,-3.46,-3.11,-3.06,-2.83,-2.57,-2.40,-1.99,-1.94,-2.17,-2.68,-3.34,-3.40,-3.32,-3.34,-3.17,-2.71,-2.25,-1.94,-1.97,-2.11,-2.37,-2.57,-2.08,-2.14,-2.31,-2.68,-2.86,-2.94,-2.97,-2.86,-2.54,-2.31,-2.40,-2.91,-2.66,-2.25,-2.17,-2.14,-2.20,-2.31,-2.45,-2.28,-2.31,-2.37,-2.51,-2.43,-2.37,-2.28,-2.37,-2.40,-2.48,-2.57];

// Panel 5: HD 209458 b, 1x
const p5_co2_x=[0,.026,.054,.090,.117,.131,.181,.204,.227,.263,.290,.318,.345,.368,.395,.418,.427,.440,.463,.486,.509,.545,.581,.613,.622,.631,.645,.663,.686,.700,.718,.745,.782,.818,.854,.891,.936,.950,.964,.991,1.018,1.045,1.073,1.109,1.137,1.164,1.182,1.200];
const p5_co2_y=[-0.98,-1.04,-0.94,-1.00,-0.98,-0.87,-0.89,-0.98,-1.02,-0.85,-0.98,-1.04,-1.00,-0.91,-0.85,-0.83,-1.11,-1.06,-0.98,-0.85,-0.81,-0.85,-0.89,-0.94,-1.32,-1.70,-1.57,-1.36,-1.15,-0.94,-0.87,-0.83,-0.81,-0.77,-0.77,-0.77,-0.79,-1.09,-1.11,-1.06,-1.02,-1.06,-1.15,-1.21,-1.23,-1.30,-1.23,-1.21];
const p5_ch4_x=[0,.017,.035,.063,.095,.113,.131,.154,.177,.199,.222,.236,.254,.272,.299,.318,.336,.354,.368,.386,.409,.436,.463,.481,.500,.527,.550,.572,.591,.609,.627,.645,.672,.700,.727,.754,.777,.800,.827,.854,.873,.891,.918,.945,.973,1.000,1.036,1.073,1.109,1.146,1.173,1.200];
const p5_ch4_y=[-1.23,-1.26,-1.21,-1.23,-1.28,-1.23,-1.11,-1.06,-1.06,-1.28,-1.43,-1.28,-1.11,-1.06,-1.02,-1.06,-1.40,-1.51,-1.40,-1.15,-1.00,-0.94,-1.00,-1.15,-1.36,-1.49,-1.53,-1.49,-1.49,-1.36,-1.17,-1.04,-1.02,-1.04,-1.06,-1.09,-1.15,-1.02,-1.13,-1.23,-1.28,-1.23,-1.19,-1.17,-1.15,-1.06,-1.00,-0.98,-0.96,-0.94,-0.91,-0.91];
const p5_hcn_x=[0,.013,.026,.040,.058,.081,.108,.122,.145,.181,.199,.217,.236,.254,.272,.299,.327,.354,.381,.409,.436,.463,.490,.518,.545,.563,.581,.595,.609,.622,.636,.654,.682,.709,.745,.773,.791,.809,.836,.864,.891,.918,.945,.964,.982,1.018,1.055,1.082,1.109,1.127,1.146,1.173,1.200];
const p5_hcn_y=[-0.98,-1.04,-1.11,-1.00,-0.96,-1.00,-0.98,-0.89,-0.94,-1.02,-1.13,-1.13,-1.11,-1.00,-0.98,-0.98,-1.02,-1.04,-1.00,-0.96,-0.94,-0.98,-1.09,-1.09,-1.11,-1.15,-1.21,-1.34,-1.30,-1.15,-1.04,-0.98,-1.00,-0.94,-0.91,-0.94,-1.02,-1.04,-1.09,-1.04,-1.00,-0.96,-0.98,-1.02,-1.04,-1.02,-1.11,-1.17,-1.15,-1.23,-1.17,-1.15,-1.11];
const p5_nh3_x=[0,.013,.026,.040,.058,.076,.095,.113,.131,.154,.177,.195,.217,.236,.254,.272,.290,.313,.336,.349,.363,.381,.399,.427,.454,.481,.509,.536,.563,.591,.613,.627,.650,.672,.700,.727,.750,.773,.791,.809,.827,.854,.882,.909,.936,.964,.982,1.000,1.023,1.036,1.055,1.082,1.109,1.137,1.155,1.173,1.182,1.200];
const p5_nh3_y=[-1.28,-1.34,-1.36,-1.23,-1.11,-1.32,-1.36,-1.32,-1.11,-1.06,-1.19,-1.32,-1.40,-1.32,-1.15,-1.11,-1.15,-1.28,-1.49,-1.60,-1.49,-1.32,-1.15,-1.13,-1.15,-1.17,-1.19,-1.21,-1.28,-1.45,-1.28,-1.15,-1.09,-1.11,-1.15,-1.19,-1.19,-1.23,-1.45,-1.26,-1.17,-1.21,-1.23,-1.23,-1.26,-1.32,-1.36,-1.49,-1.53,-1.45,-1.40,-1.36,-1.36,-1.32,-1.28,-1.32,-1.26,-1.26];
const p5_co_x=[0,.026,.054,.090,.117,.131,.186,.199,.213,.227,.245,.272,.308,.336,.349,.359,.368,.381,.395,.418,.454,.490,.527,.563,.600,.622,.631,.645,.659,.672,.686,.700,.718,.745,.773,.795,.818,.854,.891,.945,.982,1.018,1.073,1.127,1.164,1.200];
const p5_co_y=[-0.98,-1.04,-0.94,-1.00,-0.98,-0.87,-0.89,-1.28,-1.32,-1.15,-0.94,-0.85,-0.83,-0.89,-0.98,-1.53,-1.53,-1.23,-1.02,-0.85,-0.79,-0.81,-0.85,-0.89,-0.94,-0.87,-1.28,-1.57,-1.70,-1.57,-1.57,-1.32,-1.19,-1.11,-1.02,-0.89,-0.79,-0.78,-0.79,-0.81,-0.85,-0.85,-0.83,-0.83,-0.81,-0.81];
const p5_h2o_x=[0,.013,.026,.035,.045,.063,.076,.090,.099,.113,.122,.131,.145,.157,.167,.181,.195,.208,.222,.236,.249,.265,.277,.290,.299,.313,.322,.336,.349,.363,.372,.386,.399,.416,.431,.445,.459,.472,.486,.500,.518,.536,.550,.559,.572,.595,.613,.622,.631,.645,.659,.672,.686,.700,.718,.732,.745,.763,.777,.786,.800,.813,.827,.845,.859,.877,.891,.909,.927,.945,.964,.982,1.000,1.018,1.036,1.050,1.073,1.091,1.109,1.127,1.146,1.164,1.182,1.191,1.200];
const p5_h2o_y=[-3.15,-2.85,-2.64,-2.68,-3.28,-3.64,-3.49,-3.19,-3.11,-3.04,-3.28,-4.09,-4.26,-4.49,-3.96,-3.53,-3.02,-2.77,-2.60,-2.94,-3.53,-3.83,-3.53,-3.28,-3.26,-3.06,-2.94,-2.60,-2.21,-1.98,-2.00,-2.26,-2.85,-3.45,-3.40,-3.49,-3.62,-3.53,-3.28,-2.98,-2.68,-2.47,-2.51,-2.43,-2.60,-2.51,-2.98,-2.68,-1.91,-1.70,-1.70,-1.83,-1.87,-1.96,-2.17,-2.34,-2.60,-2.98,-3.09,-2.51,-2.81,-3.28,-3.28,-3.19,-2.81,-2.77,-2.68,-2.77,-2.72,-2.68,-2.64,-2.64,-2.55,-2.13,-2.26,-2.34,-2.47,-2.43,-2.55,-2.47,-2.32,-2.51,-2.43,-2.64,-2.64];

// Axis tick values (log10)
const xMajorTicks=[0,1];
const xTickLabels=["0","1"];
const speciesNames=["co2","ch4","hcn","nh3","co","h2o"];

// ---- Layout ----
const X_MAX=1.205;
const panels=[
 {id:"gj436-1x",title:"GJ 436 b, 1x solar metallicity",left:80,top:29,w:505,h:328,eTop:-3.595,eBot:-0.405,
  series:[["co2",p1_co2_x,p1_co2_y,0],["ch4",p1_ch4_x,p1_ch4_y,0],["hcn",p1_hcn_x,p1_hcn_y,0],["hcn",p1_hcnd_x,p1_hcnd_y,1],["nh3",p1_nh3_x,p1_nh3_y,0],["nh3",p1_nh3d_x,p1_nh3d_y,1],["co",p1_co_x,p1_co_y,0],["h2o",p1_h2o_x,p1_h2o_y,0]]},
 {id:"gj436-100x",title:"GJ 436 b, 100x solar metallicity",left:690,top:29,w:505,h:328,eTop:-4.142,eBot:-0.569,
  series:[["co2",p2_co2_x,p2_co2_y,0],["ch4",p2_ch4_x,p2_ch4_y,0],["hcn",p2_hcn_x,p2_hcn_y,0],["hcn",p2_hcnd_x,p2_hcnd_y,1],["nh3",p2_nh3_x,p2_nh3_y,0],["co",p2_co_x,p2_co_y,0],["h2o",p2_h2o_x,p2_h2o_y,0]]},
 {id:"gj1214-100x",title:"GJ 1214 b, 100x solar metallicity",left:80,top:461,w:505,h:328,eTop:-3.806,eBot:-0.370,
  series:[["co2",p3_co2_x,p3_co2_y,0],["ch4",p3_ch4_x,p3_ch4_y,0],["hcn",p3_hcn_x,p3_hcn_y,0],["hcn",p3_hcnd_x,p3_hcnd_y,1],["nh3",p3_nh3_x,p3_nh3_y,0],["co",p3_co_x,p3_co_y,0],["h2o",p3_h2o_x,p3_h2o_y,0]]},
 {id:"hd189733-1x",title:"HD 189733 b, 1x solar metallicity",left:690,top:461,w:505,h:328,eTop:-3.885,eBot:-1.066,
  series:[["co2",p4_co2_x,p4_co2_y,0],["ch4",p4_ch4_x,p4_ch4_y,0],["hcn",p4_hcn_x,p4_hcn_y,0],["hcn",p4_hcnd_x,p4_hcnd_y,1],["nh3",p4_nh3_x,p4_nh3_y,0],["nh3",p4_nh3d_x,p4_nh3d_y,1],["co",p4_co_x,p4_co_y,0],["h2o",p4_h2o_x,p4_h2o_y,0],["h2o",p4_h2od_x,p4_h2od_y,1]]},
 {id:"hd209458-1x",title:"HD 209458 b, 1x solar metallicity",left:385,top:892,w:505,h:328,eTop:-4.774,eBot:-0.596,
  series:[["co2",p5_co2_x,p5_co2_y,0],["ch4",p5_ch4_x,p5_ch4_y,0],["hcn",p5_hcn_x,p5_hcn_y,0],["nh3",p5_nh3_x,p5_nh3_y,0],["co",p5_co_x,p5_co_y,0],["h2o",p5_h2o_x,p5_h2o_y,0]]}
];
const COLORS={co2:"#ff0000",ch4:"#008000",hcn:"#0000ff",nh3:"#00bfbf",co:"#bfbf00",h2o:"#bf00bf"};

const NS="http://www.w3.org/2000/svg";
const svg=document.getElementById("fig");
function mk(tag,attrs,parent){const e=document.createElementNS(NS,tag);for(const k in attrs)e.setAttribute(k,attrs[k]);(parent||svg).appendChild(e);return e;}
function xScale(p,u){return p.left+u/X_MAX*p.w;}
function yScale(p,e){return p.top+(e-p.eTop)/(p.eBot-p.eTop)*p.h;}

panels.forEach((p,pi)=>{
  const g=mk("g",{});
  
  
  const cp=mk("clipPath",{id:"clip"+pi},g);
  mk("rect",{x:p.left,y:p.top,width:p.w,height:p.h},cp);
  // series
  const sg=mk("g",{"clip-path":"url(#clip"+pi+")"},g);
  
  
  p.series.forEach(s=>{
    const [sp,xs,ys,dashed]=s;
    const n=Math.min(xs.length,ys.length);
    let d="";
    for(let i=0;i<n;i++){d+=(i?"L":"M")+xScale(p,xs[i]).toFixed(1)+" "+yScale(p,ys[i]).toFixed(1);}
    const path=mk("path",{d:d,fill:"none",stroke:COLORS[sp],"stroke-width":"1.3","stroke-linejoin":"round"},sg);
    if(dashed)path.setAttribute("stroke-dasharray","4,2.2");
    
    
  });
  // frame
  const fr=mk("rect",{x:p.left,y:p.top,width:p.w,height:p.h,fill:"none",stroke:"#000","stroke-width":"1"},g);
  
  
  // x ticks
  const bot=p.top+p.h;
  for(let dec=0;dec<=1;dec++){
    for(let k=1;k<=9;k++){
      const u=dec+Math.log10(k);
      if(u>X_MAX)continue;
      const x=xScale(p,u);
      const major=(k===1);
      const t=mk("line",{x1:x,y1:bot,x2:x,y2:bot+(major?5:3),stroke:"#000","stroke-width":major?1:0.8},g);
      
      
    }
  }
  xMajorTicks.forEach((u,i)=>{
    const tx=mk("text",{x:xScale(p,u),y:bot+26,"text-anchor":"middle","font-size":"17"},g);
    
    
    const a=mk("tspan",{},tx);a.textContent="10";
    const b=mk("tspan",{dy:"-8","font-size":"12"},tx);b.textContent=xTickLabels[i];
  });
  // y ticks
  const eMinInt=Math.floor(p.eTop), eMaxInt=Math.ceil(p.eBot);
  for(let n=eMinInt;n<=eMaxInt;n++){
    for(let k=1;k<=9;k++){
      const e=n+Math.log10(k);
      if(e<p.eTop||e>p.eBot)continue;
      const y=yScale(p,e);
      const major=(k===1);
      const t=mk("line",{x1:p.left,y1:y,x2:p.left-(major?5:3),y2:y,stroke:"#000","stroke-width":major?1:0.8},g);
      
      
      if(major){
        const tx=mk("text",{x:p.left-8,y:y+6,"text-anchor":"end","font-size":"17"},g);
        
        
        const a=mk("tspan",{},tx);a.textContent="10";
        const b=mk("tspan",{dy:"-8","font-size":"12"},tx);b.textContent="\u2212"+Math.abs(n);
      }
    }
  }
  // title
  const tt=mk("text",{x:p.left+p.w/2,y:p.top-9,"text-anchor":"middle","font-size":"20",textLength:p.title.length*10.4,lengthAdjust:"spacingAndGlyphs"},g);
  tt.textContent=p.title;
  
  
  // x label
  const xl=mk("text",{x:p.left+p.w/2,y:bot+50,"text-anchor":"middle","font-size":"17",textLength:"155",lengthAdjust:"spacingAndGlyphs"},g);
  xl.textContent="Wavelength [\u03bcm]";
  
  
  // y label
  const cx=p.left-63, cy=p.top+p.h/2;
  const yl=mk("text",{x:cx,y:cy,"text-anchor":"middle","font-size":"17",transform:"rotate(-90 "+cx+" "+cy+")",textLength:"362",lengthAdjust:"spacingAndGlyphs"},g);
  yl.textContent="Relative difference to total transit depth";
  
  
});

// ---- Legend (panel 5) ----
const legendLabels=[["CO","2"],["CH","4"],["HCN",""],["NH","3"],["CO",""],["H","2","O"]];
const lg=mk("g",{});


const lbox=mk("rect",{x:655,y:901,width:229,height:89,rx:3,fill:"#fff","fill-opacity":"0.85",stroke:"#cccccc","stroke-width":"1"},lg);


speciesNames.forEach((sp,i)=>{
  const col=Math.floor(i/3), row=i%3;
  const lx=663+col*126, ly=917+row*27.5;
  const e=mk("g",{},lg);
  
  
  mk("line",{x1:lx,y1:ly,x2:lx+36,y2:ly,stroke:COLORS[sp],"stroke-width":"1.3"},e);
  const t=mk("text",{x:lx+51,y:ly+6,"font-size":"17"},e);
  const L=legendLabels[i];
  const a=mk("tspan",{},t);a.textContent=L[0];
  if(L[1]){const b=mk("tspan",{dy:"4","font-size":"12"},t);b.textContent=L[1];}
  if(L[2]){const c=mk("tspan",{dy:"-4"},t);c.textContent=L[2];}
});
</script>
</body></html>
